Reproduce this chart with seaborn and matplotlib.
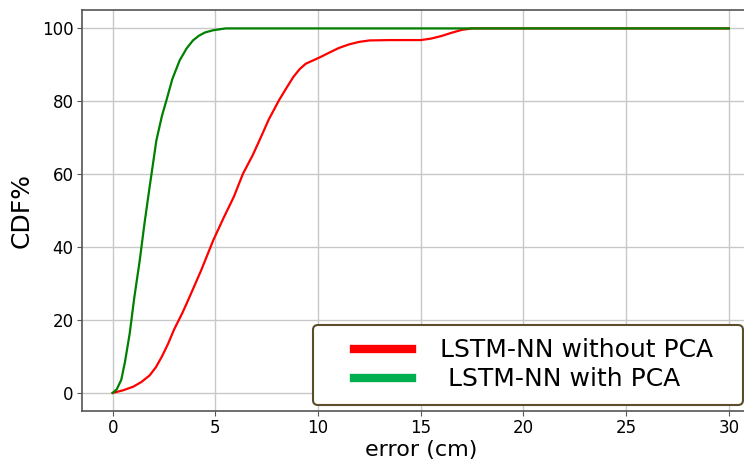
import numpy as np
import pandas as pd
import matplotlib
matplotlib.use("Agg")
from matplotlib import pyplot as plt
from matplotlib.lines import Line2D
from matplotlib.legend_handler import HandlerLine2D
import seaborn as sns

# CDF points (error in cm, CDF in %)
err_no_pca = [0, 0.5, 1.0, 1.4, 1.8, 2.1, 2.4, 2.7, 3.0, 3.4, 3.75, 4.3, 4.9, 5.4, 5.9,
              6.35, 6.8, 7.15, 7.6, 8.1, 8.5, 8.8, 9.1, 9.4, 10.1, 10.6, 11.0, 11.5,
              12.0, 12.5, 13.5, 15.0, 15.5, 16.0, 16.5, 17.0, 17.5, 30]
cdf_no_pca = [0, 0.7, 1.7, 3.0, 4.8, 7.0, 10.0, 13.5, 17.5, 22.0, 26.4, 33.5, 41.9, 48.0,
              53.8, 60.2, 65.0, 69.3, 75.0, 80.3, 84.0, 86.7, 88.8, 90.3, 92.1, 93.5,
              94.6, 95.6, 96.3, 96.7, 96.8, 96.8, 97.2, 97.9, 98.8, 99.6, 100, 100]
err_pca = [0, 0.2, 0.42, 0.6, 0.83, 1.05, 1.32, 1.55, 1.8, 2.13, 2.4, 2.62, 2.9, 3.26,
           3.6, 3.91, 4.2, 4.5, 4.9, 5.5, 30]
cdf_pca = [0, 1.0, 3.6, 8.5, 16.3, 26.0, 36.4, 46.5, 56.5, 69.3, 76.0, 80.3, 86.0, 91.2,
           94.5, 96.7, 98.0, 98.9, 99.5, 100, 100]

labels = ["LSTM-NN without PCA", " LSTM-NN with PCA"]

df = pd.concat([
    pd.DataFrame({"error": err_no_pca, "cdf": cdf_no_pca, "model": labels[0]}),
    pd.DataFrame({"error": err_pca, "cdf": cdf_pca, "model": labels[1]}),
])

fig = plt.figure(figsize=(7.44, 4.63), dpi=100)
ax = fig.add_axes([0.110, 0.112, 0.911, 0.866])

sns.lineplot(data=df, x="error", y="cdf", hue="model", sort=False,
             palette={labels[0]: "#ff0000", labels[1]: "#008000"},
             linewidth=1.6, legend=False, ax=ax, zorder=3)

ax.set_xlim(-1.5, 31.5)
ax.set_ylim(-5, 105)
ax.set_xticks([0, 5, 10, 15, 20, 25, 30])
ax.set_yticks([0, 20, 40, 60, 80, 100])
ax.grid(True, color="#c8c8c8", linewidth=1.0)
ax.set_axisbelow(True)
for s in ax.spines.values():
    s.set_color("#555555")
    s.set_linewidth(1.2)
ax.spines["right"].set_visible(False)
ax.tick_params(labelsize=12, color="#555555", pad=2.5)
ax.set_xlabel("error (cm)", fontsize=16, labelpad=2)
ax.set_ylabel("CDF%", fontsize=18, labelpad=6)

handles = [Line2D([], [], color="#ff0000", linewidth=6),
           Line2D([], [], color="#00b050", linewidth=6)]
x0, x1 = 313 / 744, 743 / 744
y0, y1 = 1 - 405 / 463, 1 - 322 / 463
leg = fig.legend(handles, labels, loc="lower left",
                 bbox_to_anchor=(x0, y0, x1 - x0, y1 - y0), mode="expand",
                 handler_map={h: HandlerLine2D(xpad=1.08) for h in handles},
                 fontsize=18, frameon=True, fancybox=True, framealpha=1,
                 handlelength=3.4, handletextpad=1.12, borderpad=0.55,
                 labelspacing=0.2, borderaxespad=0)
leg.get_frame().set_edgecolor("#5c4d2c")
leg.get_frame().set_linewidth(1.5)

fig.savefig("out.png", dpi=100)
